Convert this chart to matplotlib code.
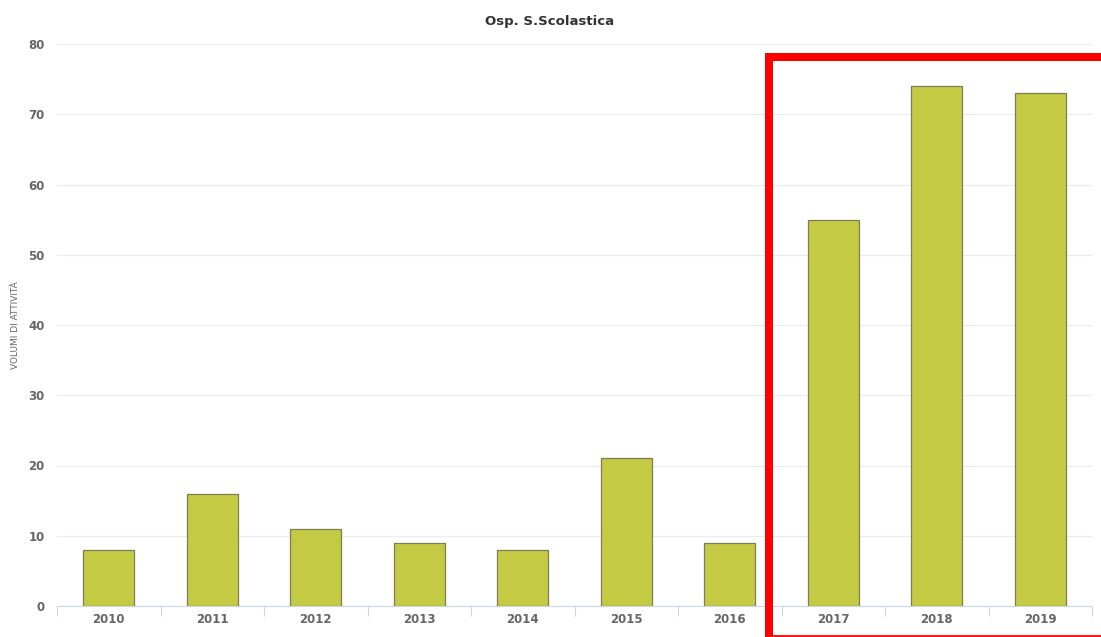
import matplotlib
matplotlib.use("Agg")
import matplotlib.pyplot as plt
from matplotlib.lines import Line2D
import numpy as np

years = ["2010", "2011", "2012", "2013", "2014", "2015", "2016", "2017", "2018", "2019"]
values = [8, 16, 11, 9, 8, 21, 9, 55, 74, 73]
y_ticks = [0, 10, 20, 30, 40, 50, 60, 70, 80]
title = "Osp. S.Scolastica"
y_label = "VOLUMI DI ATTIVITÀ"

W, H = 1101, 637
fig = plt.figure(figsize=(W / 100, H / 100), dpi=100)
ax = fig.add_axes([57 / W, 1 - 606 / H, (1092 - 57) / W, (606 - 44) / H])

x = np.arange(len(years))
ax.bar(x, values, width=0.49, color="#c5ca45", edgecolor="#7b7d52", linewidth=0.9, zorder=3)

ax.set_xlim(-0.5, len(years) - 0.5)
ax.set_ylim(0, 80)
ax.set_yticks(y_ticks)
ax.set_yticklabels([str(v) for v in y_ticks], fontsize=8.5, color="#666666", fontweight="semibold")
ax.tick_params(axis="y", length=0, pad=9)
ax.grid(axis="y", color="#ebebeb", linewidth=0.8, zorder=0)

ax.set_xticks(x)
ax.set_xticklabels(years, fontsize=8.5, color="#666666", fontweight="semibold")
ax.set_xticks(np.arange(-0.5, len(years), 1.0), minor=True)
ax.tick_params(axis="x", which="major", length=0, pad=5)
ax.tick_params(axis="x", which="minor", length=7, color="#ccd6eb", width=0.8)

for s in ["top", "right", "left"]:
    ax.spines[s].set_visible(False)
ax.spines["bottom"].set_color("#ccd6eb")
ax.spines["bottom"].set_linewidth(0.8)

fig.text(550 / W, 1 - 22 / H, title, ha="center", va="center", fontsize=9.5,
         fontweight="bold", color="#333333")
fig.text(16 / W, 1 - 325 / H, y_label, ha="center", va="center", rotation=90,
         fontsize=6.5, color="#666666")

# red highlight frame
red = "#ff0000"
fig.add_artist(Line2D([768.5 / W, 768.5 / W], [1 - 52.5 / H, 1 - 637 / H],
                      transform=fig.transFigure, color=red, linewidth=8 * 0.72,
                      solid_capstyle="butt"))
fig.add_artist(Line2D([764.5 / W, 1101 / W], [1 - 56.7 / H, 1 - 56.7 / H],
                      transform=fig.transFigure, color=red, linewidth=8 * 0.72,
                      solid_capstyle="butt"))
fig.add_artist(Line2D([768.5 / W, 1101 / W], [1 - 635.7 / H, 1 - 635.7 / H],
                      transform=fig.transFigure, color=red, linewidth=1.3,
                      solid_capstyle="butt"))

fig.savefig("out.png", dpi=100)
